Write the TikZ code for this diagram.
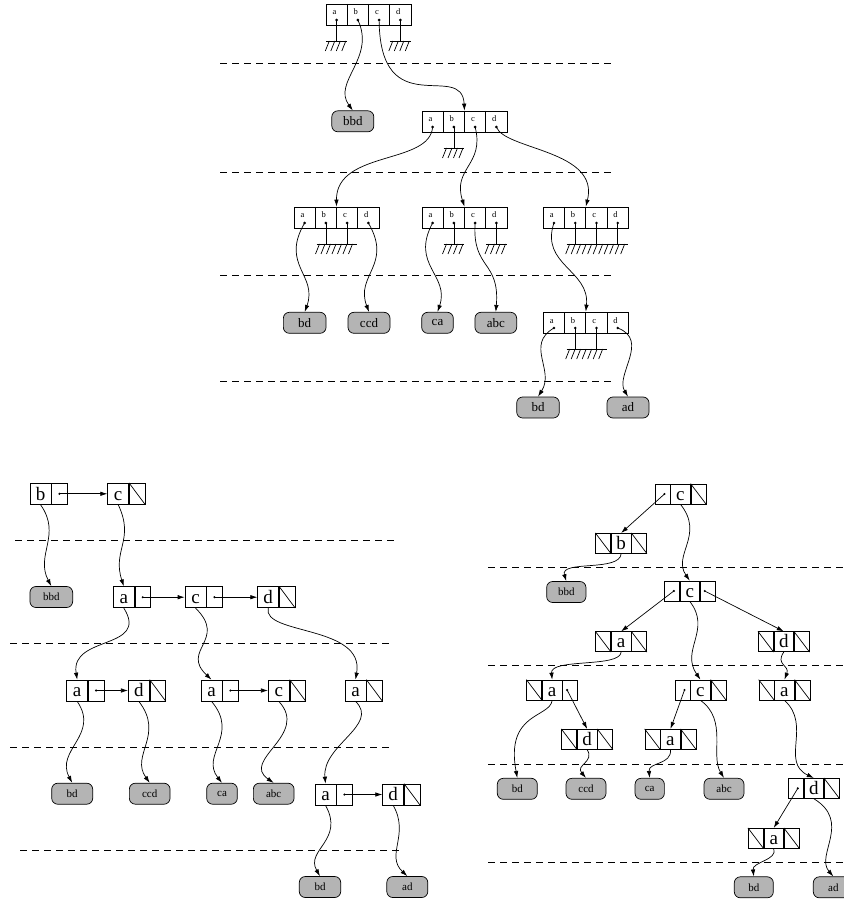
\documentclass[tikz,border=0pt]{standalone}
\usepackage{fontspec}
\setmainfont{Liberation Serif}
\usetikzlibrary{arrows.meta}
\definecolor{leafgray}{RGB}{180,180,180}
\tikzset{
  qbx/.style={draw, minimum width=85pt, minimum height=21.5pt, inner sep=0pt},
  qlet/.style={font=\fontsize{8.5}{9}\selectfont, inner sep=0pt, anchor=base},
  leaf/.style={draw, fill=leafgray, rounded corners=6pt, minimum height=21pt, inner sep=0pt},
  leafA/.style={leaf, font=\fontsize{13}{14}\selectfont},
  leafB/.style={leaf, font=\fontsize{11}{12}\selectfont},
  lcell/.style={draw, minimum width=21pt, minimum height=21pt, inner sep=0pt, font=\fontsize{19}{20}\selectfont, text height=12.5pt, text depth=0pt},
  pcell/.style={draw, minimum width=15.5pt, minimum height=21pt, inner sep=0pt},
  rside/.style={draw, minimum width=15pt, minimum height=20pt, inner sep=0pt},
  rmid/.style={draw, minimum width=19.5pt, minimum height=20pt, inner sep=0pt, font=\fontsize{19}{20}\selectfont, text height=12.5pt, text depth=0pt},
  conn/.style={-{Latex[length=7pt,width=4.5pt]}},
  sepline/.style={dash pattern=on 7pt off 5pt},
}
% four-cell array of the trie
\newcommand{\qbox}[3]{%
  \node[qbx] (#1) at ({#2+42.5},{#3+10.75}) {};
  \foreach \qi in {1,2,3} \draw ({#2+\qi*21.25},{#3}) -- ++(0,21.5);
  \foreach \qi/\qletter in {0/a,1/b,2/c,3/d}{%
    \node[qlet] at ({#2+\qi*21.25+8.5},{#3+11}) {\qletter};
    \coordinate (#1\qletter) at ({#2+\qi*21.25+10.6},{#3+16});
    \fill (#1\qletter) circle (1.4pt);
  }%
}
% ground symbol
\newcommand{\gnd}[3]{%
  \draw ({#1},{#3}) -- ({#2},{#3});
  \pgfmathtruncatemacro\gn{floor((#2-#1-3)/5.5)}%
  \foreach \gk in {0,...,\gn} \draw ({#1+3+\gk*5.5},{#3}) -- ++(-4,10);
}
% list node: name, left, top, letter, p/n
\newcommand{\lnode}[5]{%
  \node[lcell] (#1) at ({#2+10.5},{#3+10.5}) {#4};
  \node[pcell, anchor=west] (#1p) at (#1.east) {};
  \ifx p#5\fill (#1p.center) circle (1.2pt);\else\draw (#1p.north west) -- (#1p.south east);\fi
}
% ternary node: name, left, top, letter, left p/n, right p/n
\newcommand{\tnode}[6]{%
  \node[rside] (#1l) at ({#2+7.5},{#3+10}) {};
  \node[rmid, anchor=west] (#1) at (#1l.east) {#4};
  \node[rside, anchor=west] (#1r) at (#1.east) {};
  \coordinate (#1ld) at ([xshift=2pt]#1l.center);
  \coordinate (#1rd) at ([xshift=-3pt]#1r.center);
  \ifx p#5\fill (#1ld) circle (1.2pt);\else\draw (#1l.north west) -- (#1l.south east);\fi
  \ifx p#6\fill (#1rd) circle (1.2pt);\else\draw (#1r.north west) -- (#1r.south east);\fi
}
\begin{document}
\begin{tikzpicture}[x=1pt, y=-1pt, line width=0.7pt]
\useasboundingbox (0,0) rectangle (843,901);

% ---------------- top panel: trie of arrays ----------------
\foreach \yy in {63,172,275,381} \draw[sepline] (220,\yy) -- (613,\yy);

\qbox{T1}{326}{4}
\qbox{T2}{422}{111}
\qbox{L1}{294}{207}
\qbox{L2}{422}{207}
\qbox{L3}{543.3}{207}
\qbox{L4}{543.3}{312}

% grounds
\draw (T1a) -- ++(0,21); \draw (T1d) -- ++(0,21);
\gnd{326.3}{347}{41} \gnd{389.8}{410.6}{41}
\draw (T2b) -- ++(0,21);
\gnd{443.5}{464.2}{148}
\draw (L1b) -- ++(0,21); \draw (L1c) -- ++(0,21);
\gnd{316.5}{356.5}{244}
\draw (L2b) -- ++(0,21); \draw (L2d) -- ++(0,21);
\gnd{443.5}{464.2}{244} \gnd{486}{506.7}{244}
\draw (L3b) -- ++(0,21); \draw (L3c) -- ++(0,21); \draw (L3d) -- ++(0,21);
\gnd{566.7}{628.3}{244}
\draw (L4b) -- ++(0,21); \draw (L4c) -- ++(0,21);
\gnd{566.7}{606.7}{349}

% leaves
\node[leafA, minimum width=42pt] (bbdT) at (352.8,121.3) {bbd};
\node[leafA, minimum width=42.7pt] (bdTa) at (304.7,322.8) {bd};
\node[leafA, minimum width=42pt] (ccdT) at (369,322.8) {ccd};
\node[leafA, minimum width=31.6pt] (caT) at (437.5,322.8) {ca};
\node[leafA, minimum width=41.7pt] (abcT) at (495.8,322.8) {abc};
\node[leafA, minimum width=42.6pt] (bdTb) at (538,407.5) {bd};
\node[leafA, minimum width=42pt] (adT) at (628,407.5) {ad};

\draw[conn] (T1b) .. controls (376,58) and (332,82) .. (bbdT.north);
\draw[conn] (T1c) .. controls (380,125) and (462,60) .. (T2.north);
\draw[conn] (T2a) .. controls (430,165) and (336,150) .. (L1.north);
\draw[conn] (T2c) .. controls (485,165) and (452,168) .. (L2.north);
\draw[conn] (T2d) .. controls (505,150) and (600,150) .. (L3.north);
\draw[conn] (L1a) .. controls (280,265) and (318,275) .. (bdTa.north);
\draw[conn] (L1d) .. controls (393,265) and (355,275) .. (ccdT.north);
\draw[conn] (L2a) .. controls (410,265) and (450,275) .. (caT.north);
\draw[conn] (L2c) .. controls (472,270) and (500,260) .. (abcT.north);
\draw[conn] (L3a) .. controls (540,265) and (590,270) .. (L4.north);
\draw[conn] (L4a) .. controls (525,345) and (555,370) .. (bdTb.north);
\draw[conn] (L4d) .. controls (650,340) and (615,375) .. (adT.north);

% ---------------- bottom-left panel: linked lists ----------------
\draw[sepline] (15,540) -- (398,540);
\draw[sepline] (10,643.3) -- (393,643.3);
\draw[sepline] (10,747.3) -- (393,747.3);
\draw[sepline] (20,850.7) -- (403,850.7);

\lnode{LB}{30}{483.3}{b}{p}
\lnode{LC}{107.7}{483.3}{c}{n}
\lnode{LAa}{113.3}{586.7}{a}{p}
\lnode{LCa}{185}{586.7}{c}{p}
\lnode{LDa}{257.7}{586.7}{d}{n}
\lnode{LAb}{66.7}{680}{a}{p}
\lnode{LDb}{128.3}{680}{d}{n}
\lnode{LAc}{201}{680}{a}{p}
\lnode{LCc}{268.3}{680}{c}{n}
\lnode{LAd}{345}{680}{a}{n}
\lnode{LAe}{315}{784}{a}{p}
\lnode{LDe}{382.7}{784}{d}{n}

\draw[conn] (LBp.center) -- (LC.west);
\draw[conn] (LAap.center) -- (LCa.west);
\draw[conn] (LCap.center) -- (LDa.west);
\draw[conn] (LAbp.center) -- (LDb.west);
\draw[conn] (LAcp.center) -- (LCc.west);
\draw[conn] (LAep.center) -- (LDe.west);

\node[leafB, minimum width=42.7pt] (bbdL) at (51.3,597) {bbd};
\node[leafB, minimum width=41pt] (bdLa) at (72.2,793.7) {bd};
\node[leafB, minimum width=40.7pt] (ccdL) at (149.7,793.7) {ccd};
\node[leafB, minimum width=30.6pt] (caL) at (222,793.7) {ca};
\node[leafB, minimum width=40.7pt] (abcL) at (273.7,793.7) {abc};
\node[leafB, minimum width=41.4pt] (bdLb) at (320,887) {bd};
\node[leafB, minimum width=41pt] (adL) at (407.3,887) {ad};

\draw[conn] (LB.south) .. controls (62,535) and (35,555) .. (bbdL.north);
\draw[conn] (LC.south) .. controls (135,540) and (112,550) .. (LAa.north);
\draw[conn] (LAa.south) .. controls (150,650) and (70,635) .. (LAb.north);
\draw[conn] (LCa.south) .. controls (228,640) and (180,650) .. (LAc.north);
\draw[conn] (LDa.south) .. controls (262,635) and (365,625) .. (LAd.north);
\draw[conn] (LAb.south) .. controls (100,735) and (55,750) .. (bdLa.north);
\draw[conn] (LDb.south) .. controls (165,735) and (130,755) .. (ccdL.north);
\draw[conn] (LAc.south) .. controls (240,735) and (200,755) .. (caL.north);
\draw[conn] (LCc.south) .. controls (310,735) and (240,760) .. (abcL.north);
\draw[conn] (LAd.south) .. controls (380,725) and (322,745) .. (LAe.north);
\draw[conn] (LAe.south) .. controls (345,840) and (305,850) .. (bdLb.north);
\draw[conn] (LDe.south) .. controls (410,835) and (385,855) .. (adL.north);

% ---------------- bottom-right panel: ternary search tree ----------------
\foreach \yy in {567.3,665,764,862.7} \draw[sepline] (488,\yy) -- (843,\yy);

\tnode{RT}{655}{484}{c}{p}{n}
\tnode{RB}{595.7}{533.3}{b}{n}{n}
\tnode{RCa}{664.3}{581}{c}{p}{p}
\tnode{RA}{595.7}{631.7}{a}{n}{n}
\tnode{RD}{758.3}{631.7}{d}{n}{n}
\tnode{RAL}{526.7}{680}{a}{n}{p}
\tnode{RCb}{675}{680}{c}{p}{n}
\tnode{RAR}{759}{680}{a}{n}{n}
\tnode{RDa}{561.7}{729.3}{d}{n}{n}
\tnode{RAa}{645}{729.3}{a}{n}{n}
\tnode{RDb}{788.3}{778.3}{d}{p}{n}
\tnode{RAb}{748.3}{828.3}{a}{n}{n}

\draw[conn] (RTld) -- (RB.north);
\draw[conn] (RCald) -- (RA.north);
\draw[conn] (RCard) -- (RD.north);
\draw[conn] (RALrd) -- (RDa.north);
\draw[conn] (RCbld) -- (RAa.north);
\draw[conn] (RDbld) -- (RAb.north);

\node[leafB, minimum width=39.3pt] (bbdR) at (566.3,592) {bbd};
\node[leafB, minimum width=40pt] (bdRa) at (517.3,788.8) {bd};
\node[leafB, minimum width=40pt] (ccdR) at (586,788.8) {ccd};
\node[leafB, minimum width=29.3pt] (caR) at (649.7,788.8) {ca};
\node[leafB, minimum width=40pt] (abcR) at (724,788.8) {abc};
\node[leafB, minimum width=39pt] (bdRb) at (753.8,887.3) {bd};
\node[leafB, minimum width=40pt] (adR) at (833.3,887.3) {ad};

\draw[conn] (RT.south) .. controls (705,535) and (672,555) .. (RCa.north);
\draw[conn] (RB.south) .. controls (620,572) and (560,560) .. (bbdR.north);
\draw[conn] (RA.south) .. controls (620,668) and (550,658) .. (RAL.north);
\draw[conn] (RCa.south) .. controls (712,630) and (680,650) .. (RCb.north);
\draw[conn] (RD.south) .. controls (775,665) and (790,665) .. (RAR.north);
\draw[conn] (RAL.south) .. controls (550,718) and (505,712) .. (bdRa.north);
\draw[conn] (RDa.south) .. controls (595,762) and (575,765) .. (ccdR.north);
\draw[conn] (RAa.south) .. controls (672,765) and (648,762) .. (caR.north);
\draw[conn] (RCb.south) .. controls (728,720) and (710,755) .. (abcR.north);
\draw[conn] (RAR.south) .. controls (812,725) and (780,762) .. (RDb.north);
\draw[conn] (RAb.south) .. controls (778,860) and (752,862) .. (bdRb.north);
\draw[conn] (RDb.south) .. controls (852,822) and (815,855) .. (adR.north);
\end{tikzpicture}
\end{document}
